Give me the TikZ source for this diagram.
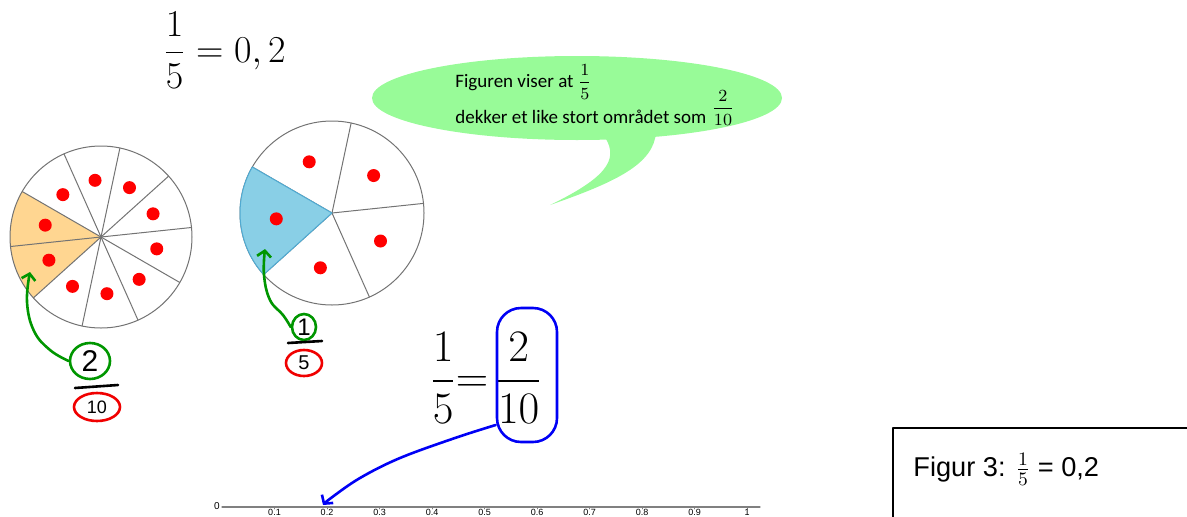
\RequirePackage{fix-cm}
\documentclass[tikz,border=0pt]{standalone}
\usepackage{amsmath}
\usepackage{fontspec}
\newfontfamily\bubblefont{Carlito}
\newfontfamily\capfont{Liberation Sans}
\newfontfamily\handfont{Liberation Sans}
\usetikzlibrary{arrows.meta,shapes.geometric}

\definecolor{sliceorange}{RGB}{255,214,145}
\definecolor{sliceblue}{RGB}{137,207,230}
\definecolor{sliceedge}{RGB}{80,170,210}
\definecolor{bubblegreen}{RGB}{152,251,152}
\definecolor{pengreen}{RGB}{0,150,0}
\definecolor{penred}{RGB}{240,0,0}
\definecolor{penblue}{RGB}{0,0,245}

\tikzset{
  pieline/.style={gray!90!black,line width=0.5pt},
  pen/.style={line width=1.3pt},
  loop/.style={ellipse,draw,pen,inner sep=0pt,font=\handfont},
}

\begin{document}
\begin{tikzpicture}[x=0.5pt,y=0.5pt,>={Straight Barb[length=3pt,width=7pt]},line cap=round,line join=round]
  \useasboundingbox (0,0) rectangle (1187,516);
  \clip (0,0) rectangle (1187,516);

  % pie in tenths
  \fill[sliceorange] (101,279) -- ++(150:91) arc[start angle=150,end angle=222,radius=91] -- cycle;
  \draw[pieline] (101,279) circle[radius=91];
  \foreach \a in {6,42,...,330}
    \draw[pieline] (101,279) -- ++(\a:91);
  \foreach \a in {24,60,...,348}
    \fill[red] (101,279) ++(\a:57) circle[radius=6.5];

  % pie in fifths
  \draw[pieline] (332,303) circle[radius=92];
  \foreach \a in {6,78,150,222,294}
    \draw[pieline] (332,303) -- ++(\a:92);
  \filldraw[fill=sliceblue,draw=sliceedge,line width=0.5pt]
    (332,303) -- ++(150:92) arc[start angle=150,end angle=222,radius=92] -- cycle;
  \foreach \a in {42,114,...,330}
    \fill[red] (332,303) ++(\a:56) circle[radius=6.5];

  % speech bubble
  \fill[bubblegreen] (577,418) ellipse[x radius=205,y radius=42];
  \fill[bubblegreen] (603,382) .. controls (618,360) and (614,342) .. (550,311)
    .. controls (616,334) and (654,352) .. (656,384) -- cycle;
  \node[anchor=base west,inner sep=0pt,font=\bubblefont\fontsize{9.5}{11}\selectfont] (bubbleA) at (455,429)
    {Figuren viser at {\fontsize{8.5}{10}\selectfont$\dfrac{1}{5}$}};
  \node[anchor=base west,inner sep=0pt,font=\bubblefont\fontsize{9.5}{11}\selectfont] (bubbleB) at (455,393)
    {dekker et like stort området som};
  \node[inner sep=0pt] (bubbleFrac) at (723,408) {\fontsize{8.5}{10}\selectfont$\dfrac{2}{10}$};

  % equations
  \node[anchor=west,inner sep=0pt] (eqTop) at (163,466) {\fontsize{19}{22}\selectfont$\dfrac{1}{5}=0,2$};
  \node[anchor=west,inner sep=0pt] (eqMid) at (430,138) {\fontsize{22.5}{26}\selectfont$\dfrac{1}{5}{=}\,\dfrac{2}{10}$};

  % handwritten notes, left pie
  \coordinate (tipA) at (30,244);
  \node[loop,pengreen,minimum width=20pt,minimum height=18pt,font=\handfont\fontsize{15}{17}\selectfont] (numTwo) at (90,155) {\textcolor{black}{2}};
  \node[loop,penred,minimum width=23pt,minimum height=14pt,font=\handfont\fontsize{9}{11}\selectfont] (denTen) at (97,109) {\textcolor{black}{10}};
  \draw[pen] (75,128) -- (118,131);
  \draw[pen,pengreen,->] plot[smooth,tension=0.7] coordinates {(numTwo.west) (50,166) (34,185) (27,214) (tipA)};

  % handwritten notes, right pie
  \coordinate (tipB) at (265,267);
  \node[loop,pengreen,minimum width=12pt,minimum height=13pt,font=\handfont\fontsize{12}{14}\selectfont] (numOne) at (304,189) {\textcolor{black}{1}};
  \node[loop,penred,minimum width=18pt,minimum height=13pt,font=\handfont\fontsize{10}{12}\selectfont] (denFive) at (304,153) {\textcolor{black}{5}};
  \draw[pen] (288,173) -- (322,175);
  \draw[pen,pengreen,->] plot[smooth,tension=0.7] coordinates {(numOne.west) (283,201) (270,216) (264,241) (tipB)};

  % number line
  \draw[gray,line width=0.6pt] (222,9) -- (760,9);
  \node[anchor=east,inner sep=1pt,font=\capfont\fontsize{5}{6}\selectfont] (zeroLbl) at (222,10) {0};
  \foreach \i/\t in {1/0.1,2/0.2,3/0.3,4/0.4,5/0.5,6/0.6,7/0.7,8/0.8,9/0.9,10/1} {
    \coordinate (tick\i) at ({222+52.5*\i},9);
    \draw[gray,line width=0.4pt] (tick\i) -- ++(0,-2);
    \node[anchor=base,inner sep=0pt,font=\capfont\fontsize{4.5}{5}\selectfont] (lbl\i) at ({222+52.5*\i},0.8) {\t};
  }

  % blue ring and arrow
  \node[draw=penblue,pen,rounded corners=12pt,minimum width=30pt,minimum height=67pt] (blueRing) at (527,141) {};
  \draw[pen,penblue,->] plot[smooth,tension=0.6] coordinates {([yshift=-25pt]blueRing.west) (455,78) (400,58) (360,38) (331,18) ([shift={(-2pt,1pt)}]tick2)};

  % caption box
  \draw[line width=1pt] (893,-10) -- (893,88) -- (1200,88);
  \node[anchor=base west,inner sep=0pt,font=\capfont\fontsize{13.6}{16}\selectfont] (capText) at (913,40)
    {Figur 3: $\frac{1}{5}$ = 0,2};
\end{tikzpicture}
\end{document}
